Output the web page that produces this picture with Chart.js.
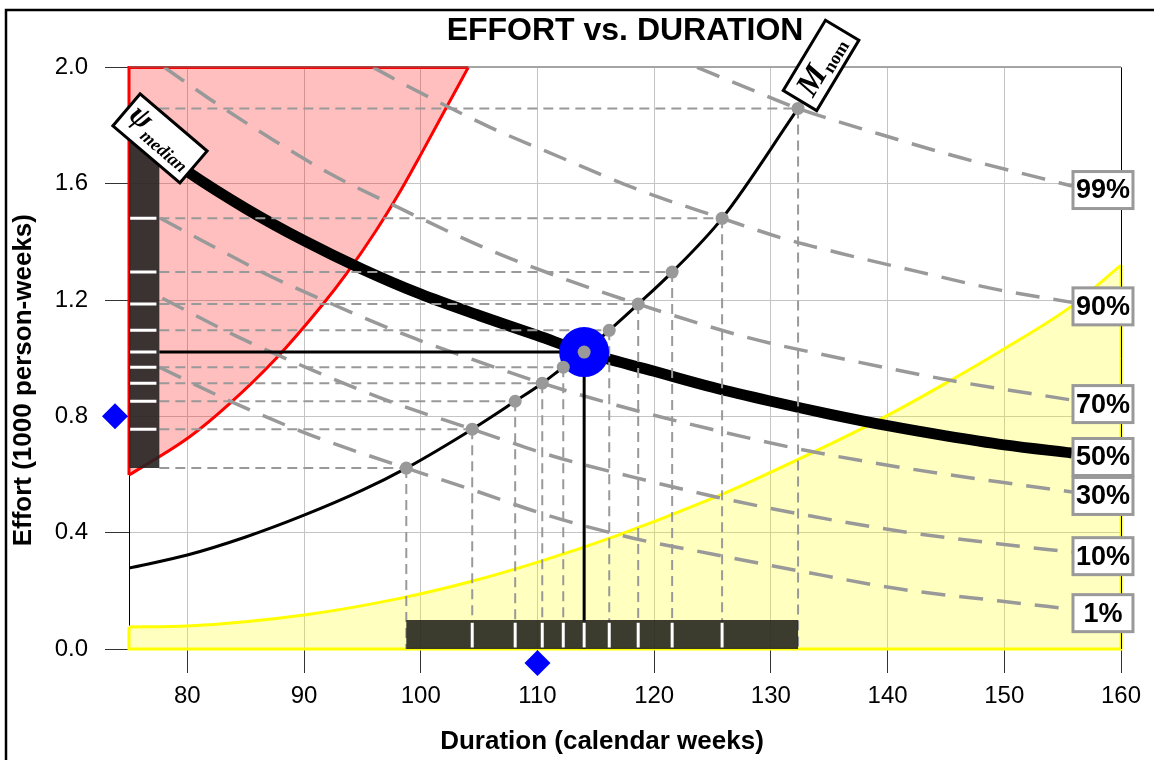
<!DOCTYPE html>
<html>
<head>
<meta charset="utf-8">
<title>Effort vs. Duration</title>
<script src="https://cdn.jsdelivr.net/npm/chart.js@4.4.1/dist/chart.umd.min.js"></script>
<style>
  html, body { margin: 0; padding: 0; background: #ffffff; }
  #wrap { width: 1154px; height: 760px; }
</style>
</head>
<body>
<div id="wrap"><canvas id="chart" width="1154" height="760"></canvas></div>
<script>
// ---- axes ----
const X_TICKS = [80, 90, 100, 110, 120, 130, 140, 150, 160];
const Y_TICKS = [0, 0.4, 0.8, 1.2, 1.6, 2.0];
const X_MIN = 75, X_MAX = 160, Y_MIN = 0, Y_MAX = 2.0;

// ---- median effort/duration trade-off (50 %) ----
const MEDIAN_T = [75, 80, 85, 90, 95, 100, 105, 110, 114, 120, 125, 130, 135, 140, 145, 150, 155.8];
const MEDIAN_E = [1.79, 1.642, 1.515, 1.404, 1.306, 1.22, 1.147, 1.078, 1.021, 0.955, 0.900, 0.852, 0.808, 0.768, 0.733, 0.702, 0.674];

// ---- nominal productivity curve M_nom ----
const MNOM_T = [75, 80, 85, 90, 95, 98.76, 104.41, 108.09, 110.41, 112.21, 114.0, 116.15, 118.63, 121.54, 125.82, 132.33];
const MNOM_E = [0.278, 0.323, 0.385, 0.46, 0.546, 0.622, 0.756, 0.852, 0.914, 0.969, 1.021, 1.096, 1.186, 1.296, 1.481, 1.859];

// ---- M_nom crossings of the 1, 10, 20 ... 90, 99 % curves ----
const CROSS_T = [98.76, 104.41, 108.09, 110.41, 112.21, 114.0, 116.15, 118.63, 121.54, 125.82, 132.33];
const CROSS_E = [0.622, 0.756, 0.852, 0.914, 0.969, 1.021, 1.096, 1.186, 1.296, 1.481, 1.859];
const PLAN_INDEX = 5;

// ---- percentile curves ----
const P99_T = [123.68, 128.22, 132.33, 139.36, 146.21, 153.06, 155.8];
const P99_E = [2.0, 1.925, 1.859, 1.77, 1.69, 1.62, 1.592];
const P90_T = [95.93, 99.10, 105.95, 111.95, 118.80, 125.82, 131.05, 135.93, 142.78, 149.64, 155.8];
const P90_E = [2.0, 1.931, 1.794, 1.691, 1.577, 1.481, 1.412, 1.361, 1.296, 1.234, 1.192];
const P70_T = [78.03, 82.74, 87.02, 92.16, 98.24, 105.95, 111.95, 118.63, 128.22, 135.93, 145.35, 155.8];
const P70_E = [2.0, 1.869, 1.759, 1.636, 1.515, 1.371, 1.278, 1.186, 1.069, 1.0, 0.924, 0.856];
const P30_T = [77.69, 82.83, 87.11, 92.25, 98.76, 103.64, 110.41, 117.34, 124.54, 132.51, 141.07, 149.64, 155.8];
const P30_E = [1.481, 1.371, 1.282, 1.189, 1.079, 1.007, 0.914, 0.832, 0.759, 0.687, 0.625, 0.574, 0.540];
const P10_T = [77.86, 84.20, 90.71, 97.30, 104.41, 111.35, 118.20, 125.40, 132.51, 141.07, 149.64, 155.8];
const P10_E = [1.206, 1.076, 0.959, 0.852, 0.756, 0.663, 0.591, 0.522, 0.464, 0.405, 0.361, 0.333];
const P1_T = [77.60, 83.85, 90.62, 98.76, 104.24, 111.09, 118.20, 125.05, 132.51, 141.07, 149.64, 155.8];
const P1_E = [0.969, 0.849, 0.735, 0.622, 0.550, 0.457, 0.381, 0.326, 0.268, 0.206, 0.165, 0.137];

// ---- infeasible (red) and inefficient (yellow) zones ----
const RED_T = [75, 80.17, 83.6, 87.62, 91.56, 93.62, 96.19, 98.33, 100, 102.1, 104.07];
const RED_E = [0.598, 0.729, 0.843, 1.0, 1.183, 1.29, 1.44, 1.58, 1.70, 1.855, 2.0];
const YEL_T = [75, 80, 90, 98.3, 104.3, 110.3, 116.8, 124.5, 128.2, 139.6, 144.8, 149.9, 155.8, 160];
const YEL_E = [0.0756, 0.079, 0.117, 0.175, 0.232, 0.302, 0.39, 0.51, 0.575, 0.795, 0.91, 1.03, 1.18, 1.32];

// ---- targets ----
const TARGET_DURATION = 110;
const TARGET_EFFORT = 0.8;

// ---- range strips along the axes ----
const SIDE_BAR_T = [75, 77.6];
const FOOT_BAR_E = [0, 0.1];

const FONT = "'Liberation Sans', Arial, Helvetica, sans-serif";
const SERIF = "'Liberation Serif', 'Times New Roman', serif";
const GRAY = '#999999';

const pts = (ts, es) => ts.map((t, i) => ({ x: t, y: es[i] }));

const pctSeries = [
  { label: '99%', t: P99_T, e: P99_E },
  { label: '90%', t: P90_T, e: P90_E },
  { label: '70%', t: P70_T, e: P70_E },
  { label: '50%', t: MEDIAN_T, e: MEDIAN_E, solid: true },
  { label: '30%', t: P30_T, e: P30_E },
  { label: '10%', t: P10_T, e: P10_E },
  { label: '1%',  t: P1_T,  e: P1_E }
];

// guide lines from each crossing to the strips
const hGuide = [], vGuide = [], whiteTicks = [];
CROSS_T.forEach((t, i) => {
  const e = CROSS_E[i];
  if (i !== PLAN_INDEX) {
    hGuide.push({ x: SIDE_BAR_T[1], y: e }, { x: t, y: e }, { x: t, y: null });
    vGuide.push({ x: t, y: e }, { x: t, y: FOOT_BAR_E[0] }, { x: t, y: null });
  }
  if (i > 0 && i < CROSS_T.length - 1) {
    whiteTicks.push({ x: SIDE_BAR_T[0] + 0.1, y: e }, { x: SIDE_BAR_T[1] - 0.25, y: e }, { x: t, y: null });
    whiteTicks.push({ x: t, y: FOOT_BAR_E[0] + 0.005 }, { x: t, y: FOOT_BAR_E[1] - 0.01 }, { x: t, y: null });
  }
});
const tPlan = CROSS_T[PLAN_INDEX], ePlan = CROSS_E[PLAN_INDEX];

const datasets = [
  { // red zone
    data: pts(RED_T, RED_E), borderColor: '#ff0000', borderWidth: 3,
    backgroundColor: 'rgba(255,0,0,0.25)', fill: { value: Y_MAX },
    cubicInterpolationMode: 'monotone', order: 100
  },
  { // red zone edges along the frame
    data: [{ x: X_MIN, y: RED_E[0] }, { x: X_MIN, y: Y_MAX }, { x: RED_T[RED_T.length - 1], y: Y_MAX }],
    borderColor: '#ff0000', borderWidth: 3, fill: false, clip: false, order: 99
  },
  { // yellow zone
    data: pts(YEL_T, YEL_E), borderColor: '#ffff00', borderWidth: 3,
    backgroundColor: 'rgba(255,255,0,0.25)', fill: 'origin',
    cubicInterpolationMode: 'monotone', order: 98
  },
  { // yellow zone edges along the frame
    data: [{ x: X_MIN, y: YEL_E[0] }, { x: X_MIN, y: Y_MIN }, { x: X_MAX, y: Y_MIN }, { x: X_MAX, y: YEL_E[YEL_E.length - 1] }],
    borderColor: '#ffff00', borderWidth: 3, fill: false, clip: false, order: 97
  },
  { // median curve
    data: pts(MEDIAN_T, MEDIAN_E), borderColor: '#000000', borderWidth: 11,
    cubicInterpolationMode: 'monotone', fill: false, order: 60
  },
  { // M_nom
    data: pts(MNOM_T, MNOM_E), borderColor: '#000000', borderWidth: 3,
    cubicInterpolationMode: 'monotone', fill: false, order: 59
  }
];
pctSeries.filter(s => !s.solid).forEach(s => datasets.push({
  data: pts(s.t, s.e), borderColor: GRAY, borderWidth: 3.5, borderDash: [24, 14],
  cubicInterpolationMode: 'monotone', fill: false, order: 55
}));
datasets.push(
  { data: hGuide, borderColor: GRAY, borderWidth: 2, borderDash: [10, 6], fill: false, order: 50 },
  { data: vGuide, borderColor: GRAY, borderWidth: 2, borderDash: [10, 6], fill: false, order: 50 },
  { // plan lines
    data: [{ x: SIDE_BAR_T[1], y: ePlan }, { x: tPlan, y: ePlan }, { x: tPlan, y: FOOT_BAR_E[0] }],
    borderColor: '#000000', borderWidth: 3, fill: false, order: 45
  },
  { // effort strip
    data: [{ x: SIDE_BAR_T[0], y: CROSS_E[0] }, { x: SIDE_BAR_T[0], y: CROSS_E[CROSS_E.length - 1] },
           { x: SIDE_BAR_T[1], y: CROSS_E[CROSS_E.length - 1] }, { x: SIDE_BAR_T[1], y: CROSS_E[0] }],
    borderWidth: 0, backgroundColor: 'rgba(38,34,34,0.9)', fill: 'shape', order: 40
  },
  { // duration strip
    data: [{ x: CROSS_T[0], y: FOOT_BAR_E[0] }, { x: CROSS_T[0], y: FOOT_BAR_E[1] },
           { x: CROSS_T[CROSS_T.length - 1], y: FOOT_BAR_E[1] }, { x: CROSS_T[CROSS_T.length - 1], y: FOOT_BAR_E[0] }],
    borderWidth: 0, backgroundColor: 'rgba(38,38,30,0.9)', fill: 'shape', order: 40
  },
  { data: whiteTicks, borderColor: '#ffffff', borderWidth: 3, fill: false, order: 35 },
  { // planned point
    data: [{ x: tPlan, y: ePlan }], showLine: false, pointRadius: 25,
    pointBackgroundColor: '#0000ff', pointBorderWidth: 0, order: 20
  },
  { // crossings
    data: pts(CROSS_T, CROSS_E), showLine: false, pointRadius: 6.5,
    pointBackgroundColor: GRAY, pointBorderWidth: 0, order: 10
  }
);

function tagBox(ctx, cx, cy, angle, w, h, main, sub, mainFont, subFont, baseMain, subDy) {
  ctx.save();
  ctx.translate(cx, cy);
  ctx.rotate(angle);
  ctx.fillStyle = '#ffffff';
  ctx.strokeStyle = '#000000';
  ctx.lineWidth = 3;
  ctx.fillRect(-w / 2, -h / 2, w, h);
  ctx.strokeRect(-w / 2, -h / 2, w, h);
  ctx.font = mainFont;
  const mw = ctx.measureText(main).width;
  ctx.font = subFont;
  const sw = ctx.measureText(sub).width;
  const x0 = -(mw + sw + 1) / 2;
  ctx.fillStyle = '#000000';
  ctx.textAlign = 'left';
  ctx.textBaseline = 'alphabetic';
  ctx.font = mainFont;
  ctx.fillText(main, x0, baseMain);
  ctx.font = subFont;
  ctx.fillText(sub, x0 + mw + 1, baseMain + subDy);
  ctx.restore();
}

function diamond(ctx, cx, cy, r) {
  ctx.beginPath();
  ctx.moveTo(cx, cy - r);
  ctx.lineTo(cx + r, cy);
  ctx.lineTo(cx, cy + r);
  ctx.lineTo(cx - r, cy);
  ctx.closePath();
  ctx.fill();
}

const decor = {
  id: 'decor',
  beforeDraw(chart) {
    const ctx = chart.ctx;
    ctx.save();
    ctx.fillStyle = '#ffffff';
    ctx.fillRect(0, 0, chart.width, chart.height);
    ctx.strokeStyle = '#000000';
    ctx.lineWidth = 2.5;
    ctx.strokeRect(6, 10, chart.width + 20, chart.height + 20);
    ctx.restore();
  },
  afterDatasetsDraw(chart) {
    const { ctx, chartArea: a, scales: { x, y } } = chart;
    ctx.save();
    // plot frame, top and right
    ctx.lineWidth = 1;
    ctx.strokeStyle = '#707070';
    ctx.beginPath(); ctx.moveTo(a.left, a.top - 0.5); ctx.lineTo(a.right, a.top - 0.5); ctx.stroke();
    ctx.strokeStyle = '#000000';
    ctx.beginPath(); ctx.moveTo(a.right + 0.5, a.top); ctx.lineTo(a.right + 0.5, a.bottom); ctx.stroke();

    // percentile tags at the curve ends
    pctSeries.forEach(s => {
      const n = s.t.length - 1;
      const px = x.getPixelForValue(s.t[n]);
      const py = y.getPixelForValue(s.e[n]) + 4;
      ctx.fillStyle = '#ffffff';
      ctx.strokeStyle = GRAY;
      ctx.lineWidth = 3;
      ctx.fillRect(px + 1, py - 18.5, 60, 37);
      ctx.strokeRect(px + 1, py - 18.5, 60, 37);
      ctx.fillStyle = '#000000';
      ctx.font = 'bold 27px ' + FONT;
      ctx.textAlign = 'center';
      ctx.textBaseline = 'middle';
      ctx.fillText(s.label, px + 31, py + 1);
    });

    // curve name tags
    const m0x = x.getPixelForValue(MEDIAN_T[0]), m0y = y.getPixelForValue(MEDIAN_E[0]);
    tagBox(ctx, m0x + 31, m0y + 10, 0.705, 88, 42, '\u03C8', 'median',
      'italic bold 31px ' + SERIF, 'italic bold 18px ' + SERIF, 5, 8);
    const nl = MNOM_T.length - 1;
    const mnx = x.getPixelForValue(MNOM_T[nl]), mny = y.getPixelForValue(MNOM_E[nl]);
    tagBox(ctx, mnx + 23, mny - 43, -1.03, 82, 39, 'M', 'nom',
      'italic bold 33px ' + SERIF, 'bold 18px ' + SERIF, 10, 4);

    // target markers on the axes
    ctx.fillStyle = '#0000ff';
    diamond(ctx, a.left - 14, y.getPixelForValue(TARGET_EFFORT), 13);
    diamond(ctx, x.getPixelForValue(TARGET_DURATION), a.bottom + 14, 13);
    ctx.restore();
  },
  afterDraw(chart) {
    const { ctx, chartArea: a } = chart;
    ctx.save();
    ctx.fillStyle = '#000000';
    ctx.font = 'bold 26px ' + FONT;
    ctx.textAlign = 'center';
    ctx.textBaseline = 'middle';
    ctx.fillText('Duration (calendar weeks)', (a.left + a.right) / 2 - 23, 742);
    ctx.translate(24, (a.top + a.bottom) / 2 + 22);
    ctx.rotate(-Math.PI / 2);
    ctx.fillText('Effort (1000 person-weeks)', 0, 0);
    ctx.restore();
  }
};

Chart.defaults.font.family = FONT;
Chart.defaults.color = '#000000';
Chart.defaults.elements.point.radius = 0;
Chart.defaults.elements.point.hoverRadius = 0;

new Chart(document.getElementById('chart'), {
  type: 'line',
  data: { datasets },
  plugins: [decor],
  options: {
    responsive: false,
    animation: false,
    events: [],
    layout: { padding: { top: 10, left: 0, right: 33, bottom: 0 } },
    plugins: {
      legend: { display: false },
      tooltip: { enabled: false },
      title: {
        display: true, fullSize: false,
        text: 'EFFORT vs. DURATION',
        color: '#000000',
        font: { size: 32, weight: 'bold', family: FONT },
        padding: { top: 2, bottom: 17 }
      }
    },
    scales: {
      x: {
        type: 'linear', min: X_MIN, max: X_MAX,
        afterBuildTicks: s => { s.ticks = X_TICKS.map(v => ({ value: v })); },
        afterFit: s => { s.height = 111; },
        grid: { color: '#c4c4c4', lineWidth: 1, tickLength: 24, tickColor: '#333333', tickWidth: 1 },
        border: { display: true, color: '#000000', width: 1 },
        ticks: { color: '#000000', font: { size: 24 }, padding: 9, maxRotation: 0, callback: v => String(v) }
      },
      y: {
        type: 'linear', min: Y_MIN, max: Y_MAX,
        afterBuildTicks: s => { s.ticks = Y_TICKS.map(v => ({ value: v })); },
        afterFit: s => { s.width = 129; },
        grid: { color: '#c4c4c4', lineWidth: 1, tickLength: 24, tickColor: '#333333', tickWidth: 1 },
        border: { display: true, color: '#000000', width: 1 },
        ticks: { color: '#000000', font: { size: 24 }, padding: 17, callback: v => Number(v).toFixed(1) }
      }
    }
  }
});
</script>
</body>
</html>
